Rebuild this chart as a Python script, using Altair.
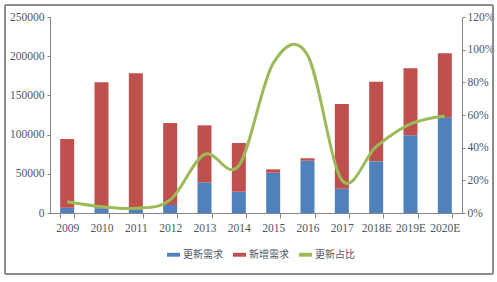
import altair as alt
import pandas as pd

years = ["2009", "2010", "2011", "2012", "2013", "2014", "2015", "2016", "2017", "2018E", "2019E", "2020E"]
renew_demand = [6800, 6000, 4700, 10200, 39100, 27200, 51400, 66700, 31000, 65900, 99100, 121600]
new_demand = [87600, 160700, 173500, 104600, 72700, 62100, 4300, 3100, 108000, 101600, 85400, 82100]
renew_ratio = [0.069, 0.039, 0.029, 0.080, 0.359, 0.290, 0.916, 0.967, 0.202, 0.406, 0.545, 0.594]
series_names = ["更新需求", "新增需求", "更新占比"]
series_colors = ["#4F81BD", "#C0504D", "#9BBB59"]

rows = []
for i, y in enumerate(years):
    rows.append({"year": y, "series": series_names[0], "value": renew_demand[i], "ord": 0})
    rows.append({"year": y, "series": series_names[1], "value": new_demand[i], "ord": 1})
bars_df = pd.DataFrame(rows)
line_df = pd.DataFrame({"year": years, "ratio": renew_ratio, "series": series_names[2]})

text_color = "#4d5566"
axis_color = "#868686"
serif = "Liberation Serif"

color_scale = alt.Scale(domain=series_names, range=series_colors)
x_enc = alt.X("year:N", sort=years, title=None,
              scale=alt.Scale(paddingInner=0.58, paddingOuter=0.29),
              axis=alt.Axis(labelAngle=0, tickBand="extent", ticks=True, tickSize=5,
                            domainColor=axis_color, tickColor=axis_color, labelColor=text_color,
                            labelFont=serif, labelFontSize=11.5, labelPadding=4))

bars = alt.Chart(bars_df).mark_bar(size=14).encode(
    x=x_enc,
    y=alt.Y("sum(value):Q", title=None,
            scale=alt.Scale(domain=[0, 250000], nice=False),
            axis=alt.Axis(values=[0, 50000, 100000, 150000, 200000, 250000], grid=False,
                          tickSize=3, domainColor=axis_color, tickColor=axis_color,
                          labelColor=text_color, labelFont=serif, labelFontSize=11.5,
                          labelPadding=3, format="d")),
    color=alt.Color("series:N", scale=color_scale,
                    legend=alt.Legend(orient="none", direction="horizontal", title=None,
                                      legendX=117, legendY=231,
                                      symbolType="M-1,-0.3H1V0.3H-1Z", symbolSize=169,
                                      symbolStrokeWidth=0,
                                      labelFont="Noto Sans CJK SC", labelFontSize=10,
                                      labelColor=text_color, columnPadding=10, labelOffset=3)),
    order=alt.Order("ord:Q", sort="ascending"),
)

line = alt.Chart(line_df).mark_line(interpolate="cardinal", strokeWidth=3).encode(
    x=alt.X("year:N", sort=years),
    y=alt.Y("ratio:Q", title=None,
            scale=alt.Scale(domain=[0, 1.2], nice=False),
            axis=alt.Axis(orient="right", values=[0, 0.2, 0.4, 0.6, 0.8, 1.0, 1.2], format=".0%",
                          grid=False, tickSize=3, domainColor=axis_color, tickColor=axis_color,
                          labelColor=text_color, labelFont=serif, labelFontSize=11.5,
                          labelPadding=2)),
    color=alt.Color("series:N", scale=color_scale),
)

border = alt.Chart(line_df).mark_rect(fill=None, stroke="#8c8c8c", strokeWidth=1).encode(
    x=alt.value(-45), x2=alt.value(443), y=alt.value(-12), y2=alt.value(257)
)

chart = alt.layer(border, bars, line).resolve_scale(y="independent").properties(
    width=412, height=196,
    autosize=alt.AutoSizeParams(type="none"),
    padding={"left": 50, "top": 17, "right": 35, "bottom": 69},
    background="white",
).configure_view(stroke=None)

chart.save("out.html", embed_options={"renderer": "svg", "actions": False})
